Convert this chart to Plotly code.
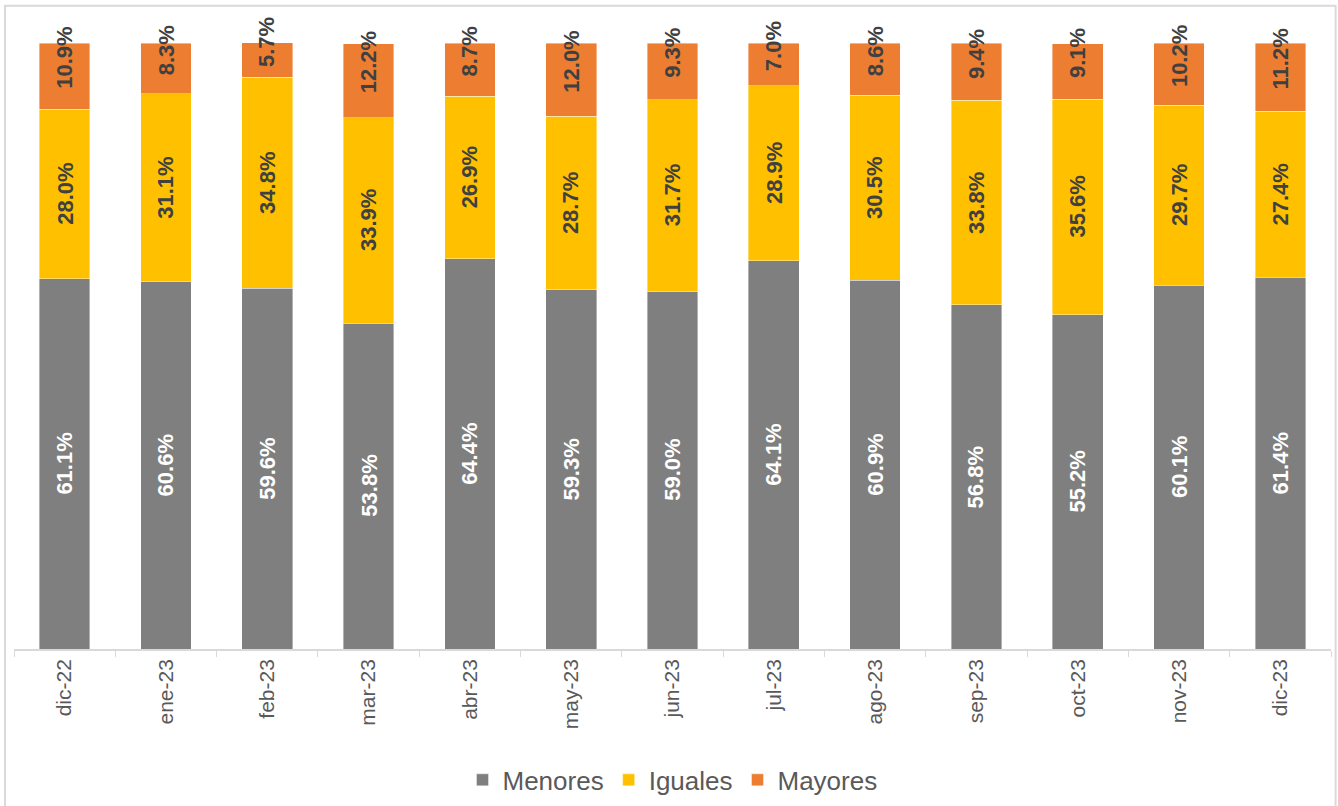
import plotly.graph_objects as go

categories = ["dic-22", "ene-23", "feb-23", "mar-23", "abr-23", "may-23", "jun-23",
              "jul-23", "ago-23", "sep-23", "oct-23", "nov-23", "dic-23"]
menores = [61.1, 60.6, 59.6, 53.8, 64.4, 59.3, 59.0, 64.1, 60.9, 56.8, 55.2, 60.1, 61.4]
iguales = [28.0, 31.1, 34.8, 33.9, 26.9, 28.7, 31.7, 28.9, 30.5, 33.8, 35.6, 29.7, 27.4]
mayores = [10.9, 8.3, 5.7, 12.2, 8.7, 12.0, 9.3, 7.0, 8.6, 9.4, 9.1, 10.2, 11.2]

colors = {"Menores": "#7f7f7f", "Iguales": "#ffc000", "Mayores": "#ed7d31"}
FONT = "Liberation Sans, Arial, sans-serif"

fig = go.Figure()
for name, vals in [("Menores", menores), ("Iguales", iguales), ("Mayores", mayores)]:
    fig.add_trace(go.Bar(
        x=categories, y=vals, name=name,
        marker=dict(color=colors[name], line=dict(color="rgba(255,255,255,0.5)", width=0.8)),
        hoverinfo="x+y+name",
    ))

annotations = []
for i, c in enumerate(categories):
    m, g, y = menores[i], iguales[i], mayores[i]
    specs = [
        (m / 2, f"{m:.1f}%", "#ffffff"),
        (m + g / 2, f"{g:.1f}%", "#404040"),
        (m + g + y / 2 + 3.0, f"{y:.1f}%", "#404040"),
    ]
    for yy, txt, col in specs:
        annotations.append(dict(
            x=c, y=yy, xref="x", yref="y", text=txt, showarrow=False,
            textangle=-90, xanchor="center", yanchor="middle",
            font=dict(family=FONT, size=22, color=col, weight="bold"),
        ))

# plot area: y from 7 px to 649 px, x from 14 px to 1331 px
fig.update_layout(
    barmode="stack",
    bargap=0.5,
    width=1338, height=806,
    margin=dict(l=14, r=7, t=7, b=157, autoexpand=False),
    paper_bgcolor="white", plot_bgcolor="white",
    font=dict(family=FONT, color="#595959"),
    showlegend=True,
    legend=dict(orientation="h", x=0.5, xanchor="center", y=-0.204, yanchor="middle",
                font=dict(size=26, color="#595959", family=FONT),
                itemwidth=30, traceorder="normal"),
    annotations=annotations,
    shapes=[dict(type="rect", xref="paper", yref="paper",
                 x0=-0.0068, x1=1.0035, y0=-0.30, y1=1.002,
                 line=dict(color="#d9d9d9", width=2), fillcolor="rgba(0,0,0,0)", layer="below")],
    xaxis=dict(type="category", showline=True, linecolor="#d9d9d9", linewidth=1.5,
               ticks="outside", tickson="boundaries", ticklen=6, tickcolor="#d9d9d9",
               tickangle=-90, tickfont=dict(size=21, color="#595959", family=FONT),
               showgrid=False, zeroline=False, automargin=False),
    yaxis=dict(range=[0, 106], visible=False, showgrid=False, zeroline=False, automargin=False),
)

fig.write_html("out.html", config={"displayModeBar": False},
               post_script="document.body.style.margin='0px';document.body.style.overflow='hidden';")
